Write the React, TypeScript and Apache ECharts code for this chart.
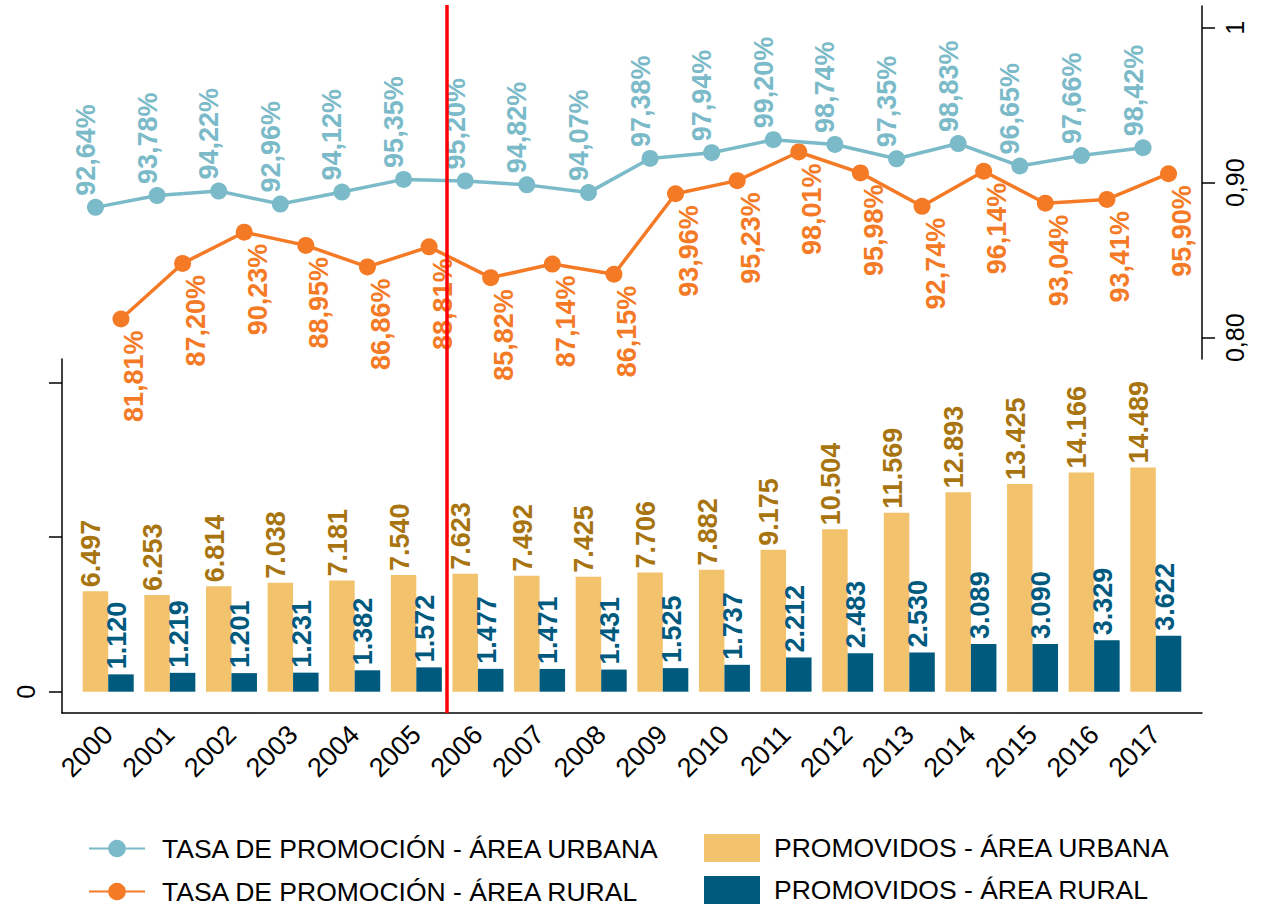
import React, { useEffect, useRef } from "react";
import * as echarts from "echarts";

const years = ["2000", "2001", "2002", "2003", "2004", "2005", "2006", "2007", "2008", "2009", "2010", "2011", "2012", "2013", "2014", "2015", "2016", "2017"];
const tasaUrbana = [92.64, 93.78, 94.22, 92.96, 94.12, 95.35, 95.2, 94.82, 94.07, 97.38, 97.94, 99.2, 98.74, 97.35, 98.83, 96.65, 97.66, 98.42];
const tasaRural = [81.81, 87.2, 90.23, 88.95, 86.86, 88.81, 85.82, 87.14, 86.15, 93.96, 95.23, 98.01, 95.98, 92.74, 96.14, 93.04, 93.41, 95.9];
const promUrbana = [6497, 6253, 6814, 7038, 7181, 7540, 7623, 7492, 7425, 7706, 7882, 9175, 10504, 11569, 12893, 13425, 14166, 14489];
const promRural = [1120, 1219, 1201, 1231, 1382, 1572, 1477, 1471, 1431, 1525, 1737, 2212, 2483, 2530, 3089, 3090, 3329, 3622];
const rightTicks = [0.8, 0.9, 1];
const rightTickLabels = ["0,80", "0,90", "1"];
const leftTicks = [0, 10000, 20000];
const leftLabelTicks = [0];
const breakAt = 5.5;

const NAMES = {
  lu: "TASA DE PROMOCIÓN - ÁREA URBANA",
  lr: "TASA DE PROMOCIÓN - ÁREA RURAL",
  bu: "PROMOVIDOS - ÁREA URBANA",
  br: "PROMOVIDOS - ÁREA RURAL",
};

const C_LU = "#7BBAC8";
const C_LR = "#F47A26";
const C_BU = "#F2C36C";
const C_BR = "#005A7D";
const C_BU_LABEL = "#A8740F";

const FONT = "'Liberation Sans', Arial, Helvetica, sans-serif";

const fmtPct = (v: number) => v.toFixed(2).replace(".", ",") + "%";
const fmtThousands = (v: number) => String(v).replace(/\B(?=(\d{3})+(?!\d))/g, ".");

export default function App() {
  const ref = useRef<HTMLDivElement>(null);
  useEffect(() => {
    document.body.style.margin = "0";
    document.body.style.overflow = "hidden";
    const chart = echarts.init(ref.current!, null, { renderer: "svg" });

    const gridLeft = 62;
    const gridRight = 60;
    const plotW = 1262 - gridLeft - gridRight;
    const xMin = -0.75;
    const xMax = years.length - 1 + 0.75;
    const pxPerUnit = plotW / (xMax - xMin);
    const barW = 25.5;
    const shift = barW / 2 / pxPerUnit;
    const idx = years.map((_, i) => i);

    const axisLineStyle = { color: "#000", width: 1.5 };
    const redLine = {
      silent: true,
      symbol: ["none", "none"],
      label: { show: false },
      lineStyle: { color: "#FF0000", width: 3.5, type: "solid" },
      data: [{ xAxis: breakAt }],
    };

    const option: any = {
      animation: false,
      backgroundColor: "#fff",
      textStyle: { fontFamily: FONT },
      grid: [
        { left: gridLeft, right: gridRight, top: 6, height: 353 },
        { left: gridLeft, right: gridRight, top: 359, height: 354 },
        { left: gridLeft, right: gridRight, top: 5, height: 708 },
      ],
      legend: [
        {
          data: [NAMES.lu, NAMES.lr],
          orient: "vertical",
          left: 83,
          top: 830,
          height: 200,
          itemWidth: 56,
          itemHeight: 22,
          itemGap: 16,
          textStyle: { fontSize: 26.5, lineHeight: 26, color: "#000", fontFamily: FONT, padding: [0, 0, 0, 12] },
        },
        {
          data: [NAMES.bu, NAMES.br],
          orient: "vertical",
          left: 699,
          top: 829,
          height: 200,
          icon: "rect",
          itemWidth: 56,
          itemHeight: 28,
          itemGap: 14,
          textStyle: { fontSize: 26.5, lineHeight: 26, color: "#000", fontFamily: FONT, padding: [0, 0, 0, 9] },
        },
      ],
      xAxis: [
        { gridIndex: 0, type: "value", min: xMin, max: xMax, show: false },
        {
          gridIndex: 1,
          type: "value",
          min: xMin,
          max: xMax,
          axisLine: { show: true, onZero: false, lineStyle: axisLineStyle },
          axisTick: { show: false },
          splitLine: { show: false },
          axisLabel: {
            customValues: idx,
            formatter: (v: number) => years[Math.round(v)] ?? "",
            rotate: 45,
            fontSize: 27,
            color: "#000",
            margin: 17,
            fontFamily: FONT,
          },
        },
        { gridIndex: 2, type: "value", min: xMin, max: xMax, show: false },
      ],
      yAxis: [
        {
          gridIndex: 0,
          type: "value",
          position: "right",
          min: 0.78626,
          max: 1.014,
          axisLine: { show: true, onZero: false, lineStyle: axisLineStyle },
          axisTick: { show: true, customValues: rightTicks, length: 13, lineStyle: axisLineStyle },
          splitLine: { show: false },
          axisLabel: {
            customValues: rightTicks,
            formatter: (v: number) => {
              const k = rightTicks.findIndex((t) => Math.abs(t - v) < 1e-6);
              return k >= 0 ? rightTickLabels[k] : "";
            },
            rotate: 90,
            fontSize: 25,
            color: "#000",
            margin: 20,
            fontFamily: FONT,
          },
        },
        { gridIndex: 0, type: "value", min: 77.93, max: 112.17, show: false },
        {
          gridIndex: 1,
          type: "value",
          position: "left",
          min: -1377,
          max: 21506,
          axisLine: { show: true, onZero: false, lineStyle: axisLineStyle },
          axisTick: { show: true, customValues: leftTicks, length: 13, lineStyle: axisLineStyle },
          splitLine: { show: false },
          axisLabel: {
            customValues: leftLabelTicks,
            formatter: (v: number) => String(v),
            rotate: 90,
            fontSize: 25,
            color: "#000",
            margin: 24,
            fontFamily: FONT,
          },
        },
        { gridIndex: 2, type: "value", min: 0, max: 1, show: false },
      ],
      series: [
        {
          name: "break",
          type: "line",
          xAxisIndex: 2,
          yAxisIndex: 3,
          data: [],
          markLine: redLine,
        },
        {
          name: NAMES.bu,
          type: "bar",
          xAxisIndex: 1,
          yAxisIndex: 2,
          data: promUrbana.map((v, i) => [i, v]),
          barWidth: barW,
          barGap: "0%",
          itemStyle: { color: C_BU },
          label: {
            show: true,
            position: "top",
            distance: 4,
            rotate: 90,
            align: "left",
            verticalAlign: "middle",
            offset: [0, -4],
            fontSize: 27,
            fontWeight: "bold",
            color: C_BU_LABEL,
            fontFamily: FONT,
            formatter: (p: any) => fmtThousands(p.value[1]),
          },
        },
        {
          name: NAMES.br,
          type: "bar",
          xAxisIndex: 1,
          yAxisIndex: 2,
          data: promRural.map((v, i) => [i, v]),
          barWidth: barW,
          barGap: "0%",
          itemStyle: { color: C_BR },
          label: {
            show: true,
            position: "top",
            distance: 5,
            rotate: 90,
            align: "left",
            verticalAlign: "middle",
            offset: [0, -4],
            fontSize: 27,
            fontWeight: "bold",
            color: C_BR,
            fontFamily: FONT,
            formatter: (p: any) => fmtThousands(p.value[1]),
          },
        },
        {
          name: NAMES.lu,
          type: "line",
          xAxisIndex: 0,
          yAxisIndex: 1,
          data: tasaUrbana.map((v, i) => [i - shift, v]),
          symbol: "circle",
          symbolSize: 17,
          itemStyle: { color: C_LU },
          lineStyle: { color: C_LU, width: 3.5 },
          label: {
            show: true,
            position: "top",
            distance: 3,
            rotate: 90,
            align: "left",
            verticalAlign: "bottom",
            offset: [0, 4],
            fontSize: 27,
            fontWeight: "bold",
            color: C_LU,
            fontFamily: FONT,
            formatter: (p: any) => fmtPct(p.value[1]),
          },
        },
        {
          name: NAMES.lr,
          type: "line",
          xAxisIndex: 0,
          yAxisIndex: 1,
          data: tasaRural.map((v, i) => [i + shift, v]),
          symbol: "circle",
          symbolSize: 17,
          itemStyle: { color: C_LR },
          lineStyle: { color: C_LR, width: 3.5 },
          label: {
            show: true,
            position: "bottom",
            distance: 3,
            rotate: 90,
            align: "right",
            verticalAlign: "top",
            fontSize: 27,
            fontWeight: "bold",
            color: C_LR,
            fontFamily: FONT,
            formatter: (p: any) => fmtPct(p.value[1]),
          },
        },
      ],
    };

    chart.setOption(option);
    return () => chart.dispose();
  }, []);

  return <div ref={ref} style={{ width: 1262, height: 905 }} />;
}
